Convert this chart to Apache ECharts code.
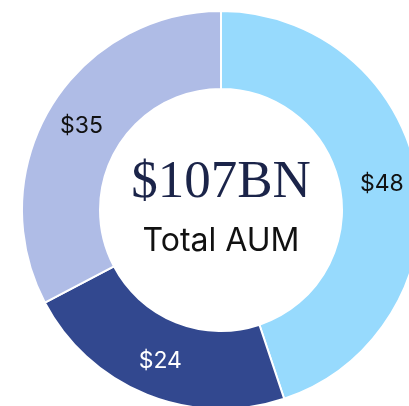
<!DOCTYPE html>
<html>
<head>
<meta charset="utf-8">
<script src="https://cdn.jsdelivr.net/npm/echarts@6/dist/echarts.min.js"></script>
<style>
  html, body { margin: 0; padding: 0; background: #fff; }
  #content { width: 409px; height: 406px; }
</style>
</head>
<body>
<div id="content"></div>
<script>
// AUM split, $BN, clockwise from 12 o'clock
const names = ['A', 'B', 'C']
const values = [48, 24, 35]
const colors = ['#97dafd', '#32488f', '#afbce6']
const labelColors = ['#111111', '#ffffff', '#111111']
const totalText = '$107BN'
const subText = 'Total AUM'

const chart = echarts.init(document.querySelector('#content'))

const data = values.map(function (v, i) {
  return {
    name: names[i],
    value: v,
    itemStyle: {color: colors[i]},
    label: {color: labelColors[i]}
  }
})

chart.setOption({
  animation: false,
  graphic: [
    {
      type: 'text',
      x: 221,
      y: 157,
      style: {
        text: totalText,
        font: '53px "Liberation Serif", serif',
        fill: '#1b2449',
        textAlign: 'center'
      }
    },
    {
      type: 'text',
      x: 221,
      y: 225,
      style: {
        text: subText,
        font: '32px Inter, sans-serif',
        fill: '#111111',
        textAlign: 'center'
      }
    }
  ],
  series: [
    {
      type: 'pie',
      center: [221, 210],
      radius: [121, 199],
      startAngle: 90,
      clockwise: true,
      itemStyle: {borderColor: '#ffffff', borderWidth: 2},
      label: {
        show: true,
        position: 'inside',
        fontFamily: 'Inter',
        fontSize: 23,
        formatter: function (p) { return '$' + p.value }
      },
      labelLine: {show: false},
      data: data
    }
  ]
})
</script>
</body>
</html>
